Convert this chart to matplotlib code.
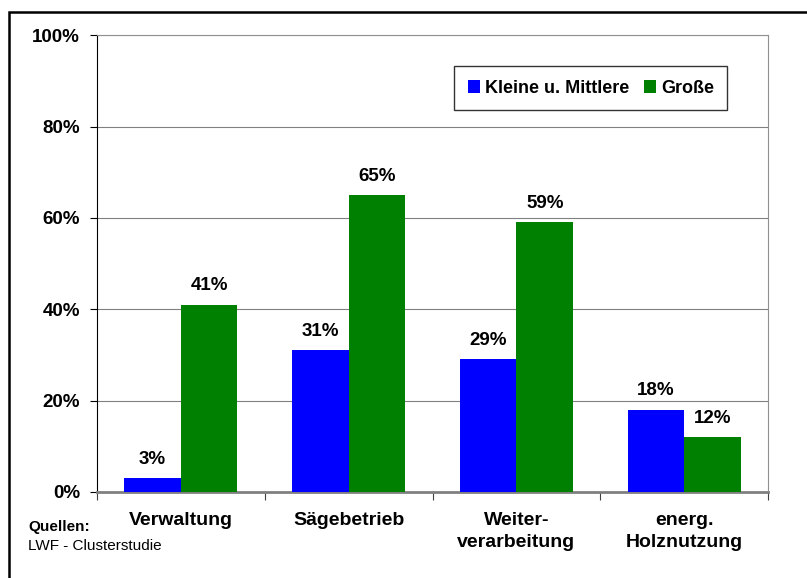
import numpy as np
import matplotlib
matplotlib.use("Agg")
from matplotlib import pyplot as plt
from matplotlib.patches import Rectangle

categories = ["Verwaltung", "Sägebetrieb", "Weiter-\nverarbeitung", "energ.\nHolznutzung"]
series_names = ["Kleine u. Mittlere", "Große"]
small_medium = [3, 31, 29, 18]
large = [41, 65, 59, 12]
y_ticks = [0, 20, 40, 60, 80, 100]

plt.rcParams["font.family"] = ["Liberation Sans", "DejaVu Sans"]

fig = plt.figure(figsize=(8.07, 5.78), dpi=100)
ax = fig.add_axes([0.120, 0.149, 0.832, 0.790])

x = np.arange(len(categories))
width = 0.337
bars_a = ax.bar(x - width / 2, small_medium, width, color="#0000ff", label=series_names[0], zorder=3)
bars_b = ax.bar(x + width / 2, large, width, color="#008000", label=series_names[1], zorder=3)

for bars, vals in [(bars_a, small_medium), (bars_b, large)]:
    for b, v in zip(bars, vals):
        ax.text(b.get_x() + b.get_width() / 2, v + 2.3, f"{v}%", ha="center", va="bottom",
                fontsize=13.5, fontweight="bold")

ax.set_xlim(-0.5, len(categories) - 0.5)
ax.set_ylim(0, 100)
ax.set_yticks(y_ticks)
ax.set_yticklabels([f"{t}%" for t in y_ticks], fontsize=13.5, fontweight="bold")
ax.yaxis.grid(True, color="#808080", linewidth=0.8, zorder=0)

ax.set_xticks(np.arange(-0.5, len(categories), 1.0))
ax.set_xticklabels([])
ax.tick_params(axis="x", length=6, width=0.8, color="#404040", direction="out")
ax.tick_params(axis="y", length=5, width=0.8, direction="out", pad=7)

for xi, cat in zip(x, categories):
    ax.text(xi, -0.045, cat, transform=ax.get_xaxis_transform(), ha="center", va="top",
            fontsize=14, fontweight="bold", linespacing=1.35)

ax.spines["left"].set_color("black")
ax.spines["bottom"].set_color("#808080")
ax.spines["bottom"].set_linewidth(2)
ax.spines["top"].set_color("#909090")
ax.spines["right"].set_color("#909090")

leg = ax.legend(loc="upper right", bbox_to_anchor=(0.939, 0.932), ncol=2,
                prop={"weight": "bold", "size": 13}, frameon=True, fancybox=False,
                handlelength=0.7, handleheight=0.7, handletextpad=0.25, columnspacing=0.8,
                borderpad=0.75, borderaxespad=0, edgecolor="black")
leg.get_frame().set_linewidth(1.0)

fig.text(28 / 807, 1 - 527 / 578, "Quellen:", fontsize=11, fontweight="bold", va="center")
fig.text(28 / 807, 1 - 546 / 578, "LWF - Clusterstudie", fontsize=11, va="center")

fig.patches.append(Rectangle((9 / 807, -0.1), 1.2, 1 - 12 / 578 + 0.1, transform=fig.transFigure,
                             fill=False, edgecolor="black", linewidth=1.8))

fig.savefig("out.png", dpi=100)
